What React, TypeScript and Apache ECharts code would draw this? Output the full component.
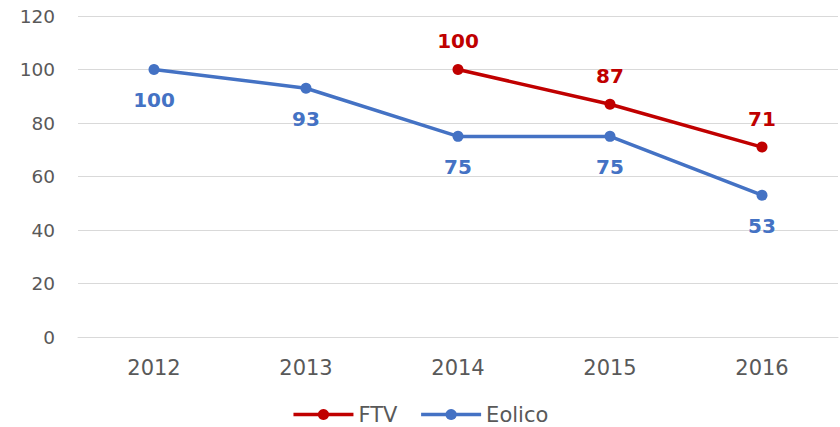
import React, { useEffect, useRef } from "react";
import * as echarts from "echarts";

const years = ["2012", "2013", "2014", "2015", "2016"];
const ftv = [null, null, 100, 87, 71];
const eolico = [100, 93, 75, 75, 53];
const FONT = "'DejaVu Sans', 'Open Sans', sans-serif";

export default function App() {
  const ref = useRef<HTMLDivElement>(null);
  useEffect(() => {
    document.body.style.margin = "0";
    const chart = echarts.init(ref.current!, null, { renderer: "svg" });
    chart.setOption({
      animation: false,
      textStyle: { fontFamily: FONT },
      grid: { left: 78, right: 2, top: 16, bottom: 90, containLabel: false },
      legend: {
        top: 399,
        left: "center",
        itemWidth: 60,
        itemHeight: 14,
        itemGap: 22,
        lineStyle: { width: 3.5 },
        textStyle: { color: "#595959", fontSize: 21, fontFamily: FONT },
        data: ["FTV", "Eolico"],
      },
      xAxis: {
        type: "category",
        data: years,
        boundaryGap: true,
        axisLine: { show: true, lineStyle: { color: "#d9d9d9" } },
        axisTick: { show: false },
        axisLabel: { color: "#595959", fontSize: 21, margin: 20, fontFamily: FONT },
      },
      yAxis: {
        type: "value",
        min: 0,
        max: 120,
        interval: 20,
        axisLine: { show: false },
        axisTick: { show: false },
        splitLine: { lineStyle: { color: "#d9d9d9", width: 1 } },
        axisLabel: { color: "#595959", fontSize: 18.5, margin: 23, fontFamily: FONT },
      },
      series: [
        {
          name: "FTV",
          type: "line",
          data: ftv,
          color: "#C00000",
          symbol: "circle",
          symbolSize: 11,
          lineStyle: { width: 3.5, color: "#C00000" },
          itemStyle: { color: "#C00000" },
          label: {
            show: true,
            position: "top",
            distance: 13,
            color: "#C00000",
            fontWeight: "bold",
            fontSize: 20,
            fontFamily: FONT,
          },
        },
        {
          name: "Eolico",
          type: "line",
          data: eolico,
          color: "#4472C4",
          symbol: "circle",
          symbolSize: 11,
          lineStyle: { width: 3.5, color: "#4472C4" },
          itemStyle: { color: "#4472C4" },
          label: {
            show: true,
            position: "bottom",
            distance: 15,
            color: "#4472C4",
            fontWeight: "bold",
            fontSize: 20,
            fontFamily: FONT,
          },
        },
      ],
    });
    return () => chart.dispose();
  }, []);
  return <div ref={ref} style={{ width: 840, height: 427 }} />;
}
